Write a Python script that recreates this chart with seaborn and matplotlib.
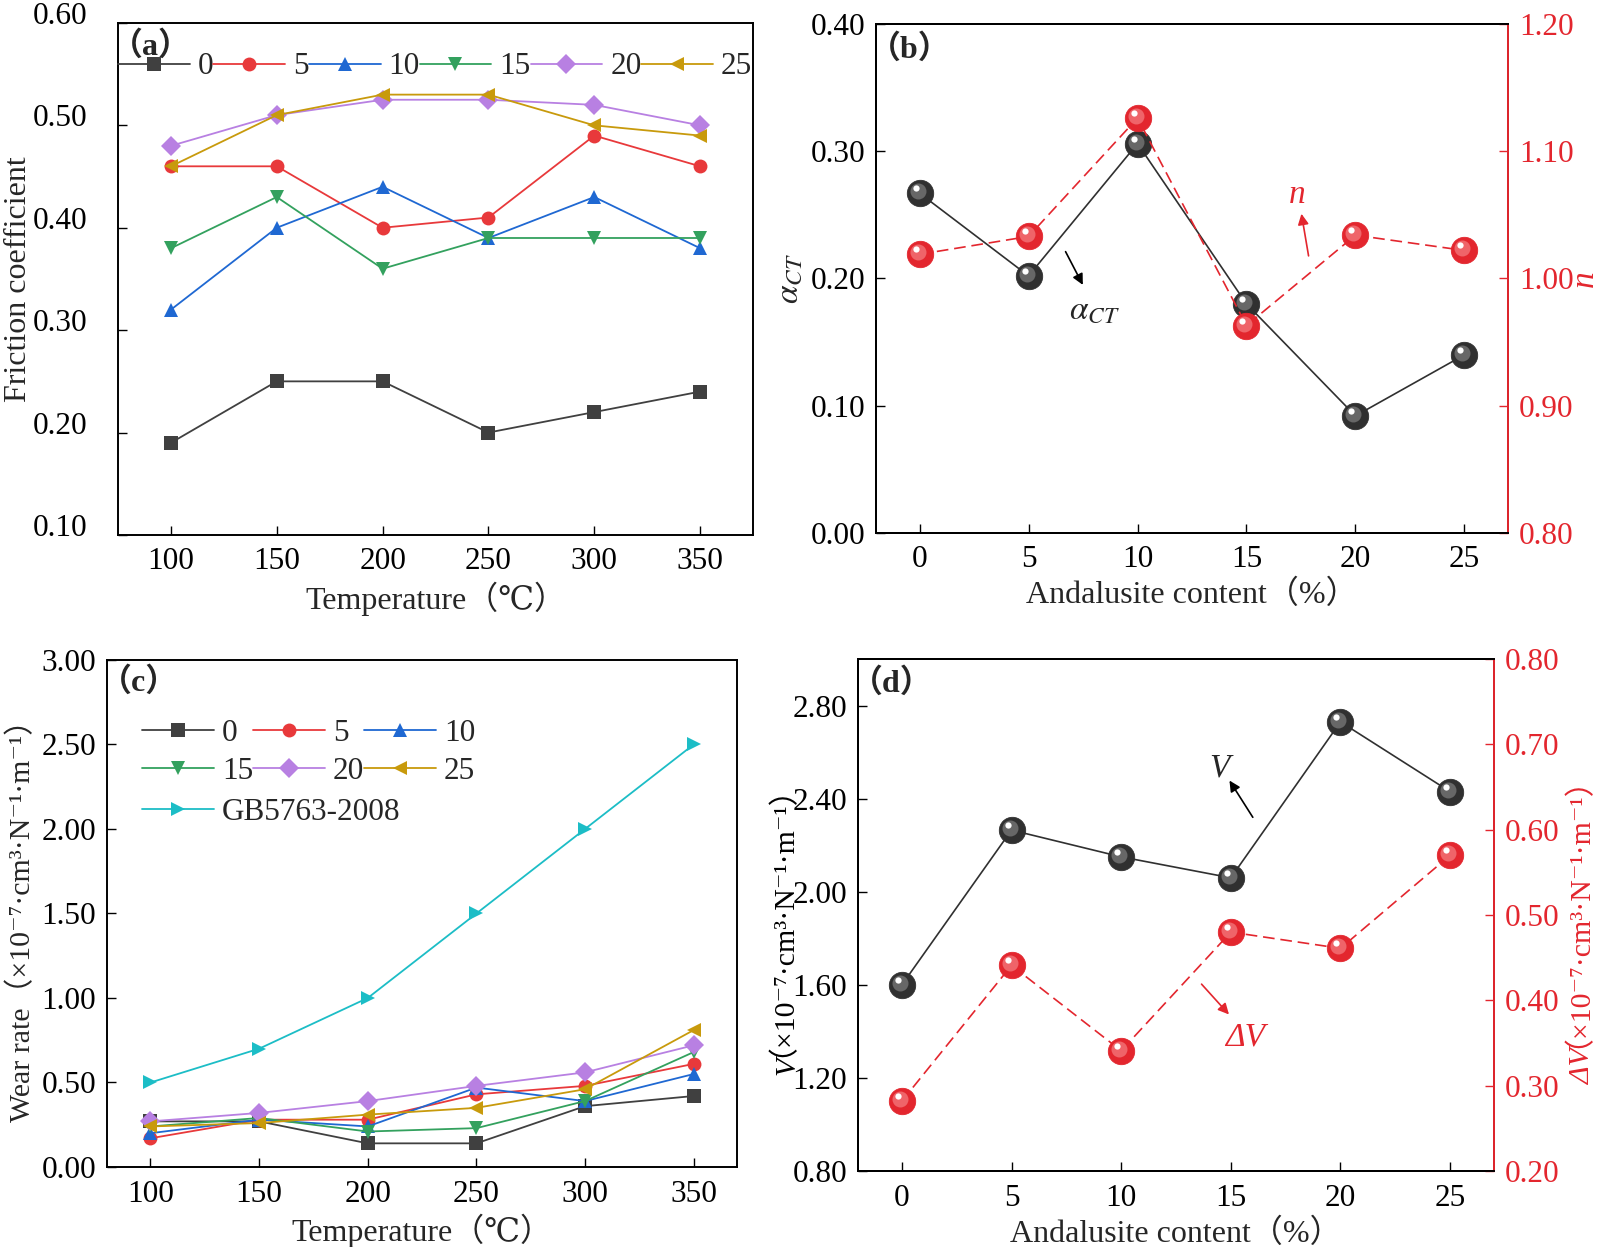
import matplotlib
matplotlib.use("Agg")
import matplotlib.pyplot as plt
from matplotlib.transforms import ScaledTranslation, offset_copy, IdentityTransform
import pandas as pd
import seaborn as sns

sns.set_style("ticks")
plt.rcParams['font.family'] = ['Liberation Serif', 'DejaVu Serif', 'Noto Sans CJK SC']
plt.rcParams['mathtext.fontset'] = 'stix'
plt.rcParams.update({
    'xtick.direction': 'in', 'ytick.direction': 'in',
    'xtick.major.size': 6.5, 'ytick.major.size': 6.5,
    'xtick.major.width': 1.0, 'ytick.major.width': 1.0,
    'axes.linewidth': 1.4, 'axes.edgecolor': 'black',
    'xtick.color': 'black', 'ytick.color': 'black',
    'xtick.labelsize': 22.5, 'ytick.labelsize': 22.5,
    'axes.labelsize': 23,
    'xtick.major.pad': 9, 'ytick.major.pad': 8,
})

# ---- data ----
temps = [100, 150, 200, 250, 300, 350]
contents = [0, 5, 10, 15, 20, 25]
series_names = ['0', '5', '10', '15', '20', '25']
gb_name = 'GB5763-2008'

friction_0 = [0.19, 0.25, 0.25, 0.20, 0.22, 0.24]
friction_5 = [0.46, 0.46, 0.40, 0.41, 0.49, 0.46]
friction_10 = [0.32, 0.40, 0.44, 0.39, 0.43, 0.38]
friction_15 = [0.38, 0.43, 0.36, 0.39, 0.39, 0.39]
friction_20 = [0.48, 0.51, 0.525, 0.525, 0.52, 0.50]
friction_25 = [0.46, 0.51, 0.53, 0.53, 0.50, 0.49]

wear_0 = [0.27, 0.27, 0.14, 0.14, 0.36, 0.42]
wear_5 = [0.17, 0.28, 0.28, 0.43, 0.48, 0.61]
wear_10 = [0.20, 0.28, 0.24, 0.47, 0.39, 0.55]
wear_15 = [0.24, 0.29, 0.21, 0.23, 0.39, 0.68]
wear_20 = [0.27, 0.32, 0.39, 0.48, 0.56, 0.72]
wear_25 = [0.24, 0.26, 0.31, 0.35, 0.46, 0.81]
wear_gb = [0.50, 0.70, 1.00, 1.50, 2.00, 2.50]

alpha_ct = [0.267, 0.202, 0.306, 0.180, 0.092, 0.140]
n_values = [1.019, 1.033, 1.126, 0.963, 1.034, 1.022]
v_values = [1.60, 2.265, 2.15, 2.06, 2.73, 2.43]
dv_values = [0.282, 0.441, 0.341, 0.480, 0.461, 0.570]

# ---- styles ----
red = '#e3262e'
colors = {'0': '#404040', '5': '#e8393b', '10': '#1f68d2', '15': '#33a15e',
          '20': '#b880e2', '25': '#c89a0c', gb_name: '#1cbdc6'}
markers = {'0': 's', '5': 'o', '10': '^', '15': 'v', '20': 'D', '25': '<', gb_name: '>'}
unit = '（×10⁻⁷·cm³·N⁻¹·m⁻¹）'
dashed = (0, (7, 3.5))


def long_frame(values, names):
    rows = [(t, name, v) for name, vals in zip(names, values) for t, v in zip(temps, vals)]
    return pd.DataFrame(rows, columns=['Temperature', 'Content', 'Value'])


def panel_tag(ax, letter, y):
    ax.text(-0.012, y, f'（{letter}）', transform=ax.transAxes, fontsize=23, ha='left',
            va='center', fontweight='bold')


def balls(ax, x, y, base, mid, ls):
    sns.lineplot(x=x, y=y, ax=ax, color=base, lw=1.2, linestyle=ls, marker='o', markersize=19,
                 markerfacecolor=base, markeredgecolor=base, markeredgewidth=0.6, zorder=3)
    fig = ax.figure
    ax.plot(x, y, ls='none', marker='o', ms=11.5, mfc=mid, mec='none', alpha=0.75, zorder=4,
            transform=offset_copy(ax.transData, fig=fig, x=-2, y=2, units='dots'))
    ax.plot(x, y, ls='none', marker='o', ms=4.5, mfc='white', mec='none', zorder=5,
            transform=offset_copy(ax.transData, fig=fig, x=-4, y=5, units='dots'))


def composite_ylabel(fig, ax, lead, rest, x_base, color):
    # italic symbol + upright unit, centred on the axes; the unit string (mixed
    # fallback fonts) sits about 20 px off its nominal baseline, so pull it back
    box = ax.get_window_extent()
    yc = (box.y0 + box.y1) / 2
    kw = dict(rotation=90, rotation_mode='anchor', va='baseline', fontsize=21.5,
              color=color, transform=IdentityTransform())
    t_lead = fig.text(x_base, yc, lead, ha='right', style='italic', **kw)
    t_rest = fig.text(x_base - 20, yc, rest, ha='left', **kw)
    fig.canvas.draw()
    h_lead = t_lead.get_window_extent().height
    h_rest = t_rest.get_window_extent().height
    y_join = yc - (h_lead + h_rest) / 2 + h_lead
    t_lead.set_position((x_base, y_join))
    t_rest.set_position((x_base - 20, y_join))


fig = plt.figure(figsize=(16, 12.47), dpi=100)
ax_a = fig.add_axes([0.07375, 0.5710, 0.3969, 0.4106])
ax_b = fig.add_axes([0.5475, 0.5726, 0.3950, 0.4082])
ax_c = fig.add_axes([0.0669, 0.06415, 0.3938, 0.4066])
ax_d = fig.add_axes([0.53625, 0.0609, 0.3975, 0.4106])

# ---- (a) friction coefficient ----
df_a = long_frame([friction_0, friction_5, friction_10, friction_15, friction_20, friction_25],
                  series_names)
sns.lineplot(data=df_a, x='Temperature', y='Value', hue='Content', style='Content',
             hue_order=series_names, style_order=series_names, palette=colors, markers=markers,
             dashes=False, markersize=10, markeredgewidth=0, linewidth=1.3, legend=False,
             errorbar=None, ax=ax_a)
ax_a.set_xlim(75, 375)
ax_a.set_ylim(0.10, 0.60)
ax_a.set_xticks(temps)
ax_a.set_yticks([0.1, 0.2, 0.3, 0.4, 0.5, 0.6])
ax_a.set_yticklabels([f'{v:.2f}' for v in [0.1, 0.2, 0.3, 0.4, 0.5, 0.6]])
ax_a.tick_params(axis='y', pad=22)
shift = ScaledTranslation(0, 0.10, fig.dpi_scale_trans)
for lbl in ax_a.get_yticklabels():
    lbl.set_transform(lbl.get_transform() + shift)
ax_a.set_xlabel('Temperature（℃）')
ax_a.set_ylabel('Friction coefficient', labelpad=0)
ax_a.legend(ax_a.get_lines()[:6], series_names, ncol=6, loc='center left',
            bbox_to_anchor=(0.0, 0.914), frameon=False, fontsize=22.5, handlelength=2.3,
            handletextpad=0.25, columnspacing=0.0, borderpad=0, borderaxespad=0)
panel_tag(ax_a, 'a', 0.955)

# ---- (b) alpha_CT and n ----
balls(ax_b, contents, alpha_ct, '#303030', '#7a7a7a', '-')
ax_b2 = ax_b.twinx()
balls(ax_b2, contents, n_values, red, '#f47a7e', dashed)
ax_b.set_xlim(-2, 27)
ax_b.set_ylim(0, 0.40)
ax_b2.set_ylim(0.80, 1.20)
ax_b.set_xticks(contents)
ax_b.set_yticks([0, 0.1, 0.2, 0.3, 0.4])
ax_b.set_yticklabels([f'{v:.2f}' for v in [0, 0.1, 0.2, 0.3, 0.4]])
ax_b2.set_yticks([0.8, 0.9, 1.0, 1.1, 1.2])
ax_b2.set_yticklabels([f'{v:.2f}' for v in [0.8, 0.9, 1.0, 1.1, 1.2]])
ax_b2.spines['right'].set_color(red)
ax_b2.tick_params(axis='y', colors=red, pad=8)
ax_b.set_xlabel('Andalusite content（%）')
ax_b.set_ylabel(r'$\alpha_{CT}$', fontsize=24)
ax_b2.set_ylabel('n', color=red, style='italic', fontsize=24, labelpad=-3)
ax_b.annotate('', xy=(7.55, 0.193), xytext=(6.64, 0.223),
              arrowprops=dict(arrowstyle='-|>', color='black', lw=1.2, mutation_scale=16))
ax_b.text(8.04, 0.175, r'$\alpha_{CT}$', fontsize=24, ha='center', va='center')
ax_b.annotate('', xy=(17.5, 0.253), xytext=(17.87, 0.2156),
              arrowprops=dict(arrowstyle='-|>', color=red, lw=1.2, mutation_scale=16))
ax_b.text(17.33, 0.266, 'n', color=red, style='italic', fontsize=24, ha='center', va='center')
panel_tag(ax_b, 'b', 0.949)

# ---- (c) wear rate ----
df_c = long_frame([wear_0, wear_5, wear_10, wear_15, wear_20, wear_25, wear_gb],
                  series_names + [gb_name])
sns.lineplot(data=df_c, x='Temperature', y='Value', hue='Content', style='Content',
             hue_order=series_names + [gb_name], style_order=series_names + [gb_name],
             palette=colors, markers=markers, dashes=False, markersize=10, markeredgewidth=0,
             linewidth=1.3, legend=False, errorbar=None, ax=ax_c)
ax_c.set_xlim(80, 370)
ax_c.set_ylim(0, 3.0)
ax_c.set_xticks(temps)
ax_c.set_yticks([0, 0.5, 1.0, 1.5, 2.0, 2.5, 3.0])
ax_c.set_yticklabels([f'{v:.2f}' for v in [0, 0.5, 1.0, 1.5, 2.0, 2.5, 3.0]])
ax_c.set_xlabel('Temperature（℃）')
ax_c.set_ylabel('Wear rate' + unit, fontsize=21.5)
lines_c = ax_c.get_lines()
order = [0, 3, 1, 4, 2, 5]
leg1 = ax_c.legend([lines_c[i] for i in order], [series_names[i] for i in order], ncol=3,
                   loc='center left', bbox_to_anchor=(0.056, 0.8176), frameon=False,
                   fontsize=22.5, handlelength=2.3, handletextpad=0.25, columnspacing=0.0,
                   labelspacing=0.3, borderpad=0, borderaxespad=0)
ax_c.add_artist(leg1)
ax_c.legend([lines_c[6]], [gb_name], loc='center left', bbox_to_anchor=(0.056, 0.70),
            frameon=False, fontsize=22.5, handlelength=2.3, handletextpad=0.25,
            borderpad=0, borderaxespad=0)
panel_tag(ax_c, 'c', 0.955)

# ---- (d) V and delta V ----
balls(ax_d, contents, v_values, '#303030', '#7a7a7a', '-')
ax_d2 = ax_d.twinx()
balls(ax_d2, contents, dv_values, red, '#f47a7e', dashed)
ax_d.set_xlim(-2, 27)
ax_d.set_ylim(0.80, 3.00)
ax_d2.set_ylim(0.20, 0.80)
ax_d.set_xticks(contents)
ax_d.set_yticks([0.8, 1.2, 1.6, 2.0, 2.4, 2.8])
ax_d.set_yticklabels([f'{v:.2f}' for v in [0.8, 1.2, 1.6, 2.0, 2.4, 2.8]])
ax_d2.set_yticks([0.2, 0.3, 0.4, 0.5, 0.6, 0.7, 0.8])
ax_d2.set_yticklabels([f'{v:.2f}' for v in [0.2, 0.3, 0.4, 0.5, 0.6, 0.7, 0.8]])
ax_d2.spines['right'].set_color(red)
ax_d2.tick_params(axis='y', colors=red, pad=8)
ax_d.set_xlabel('Andalusite content（%）')
ax_d.annotate('', xy=(14.87, 2.488), xytext=(16.07, 2.31),
              arrowprops=dict(arrowstyle='-|>', color='black', lw=1.2, mutation_scale=16))
ax_d.text(14.5, 2.53, 'V', style='italic', fontsize=24, ha='center', va='center')
ax_d.annotate('', xy=(15.0, 1.464), xytext=(13.58, 1.612),
              arrowprops=dict(arrowstyle='-|>', color=red, lw=1.2, mutation_scale=16))
ax_d.text(15.66, 1.376, 'ΔV', style='italic', color=red, fontsize=24, ha='center',
          va='center')
panel_tag(ax_d, 'd', 0.953)

composite_ylabel(fig, ax_d, 'V', unit, 794, 'black')
composite_ylabel(fig, ax_d, 'ΔV', unit, 1590, red)

fig.savefig('out.png', dpi=100)
